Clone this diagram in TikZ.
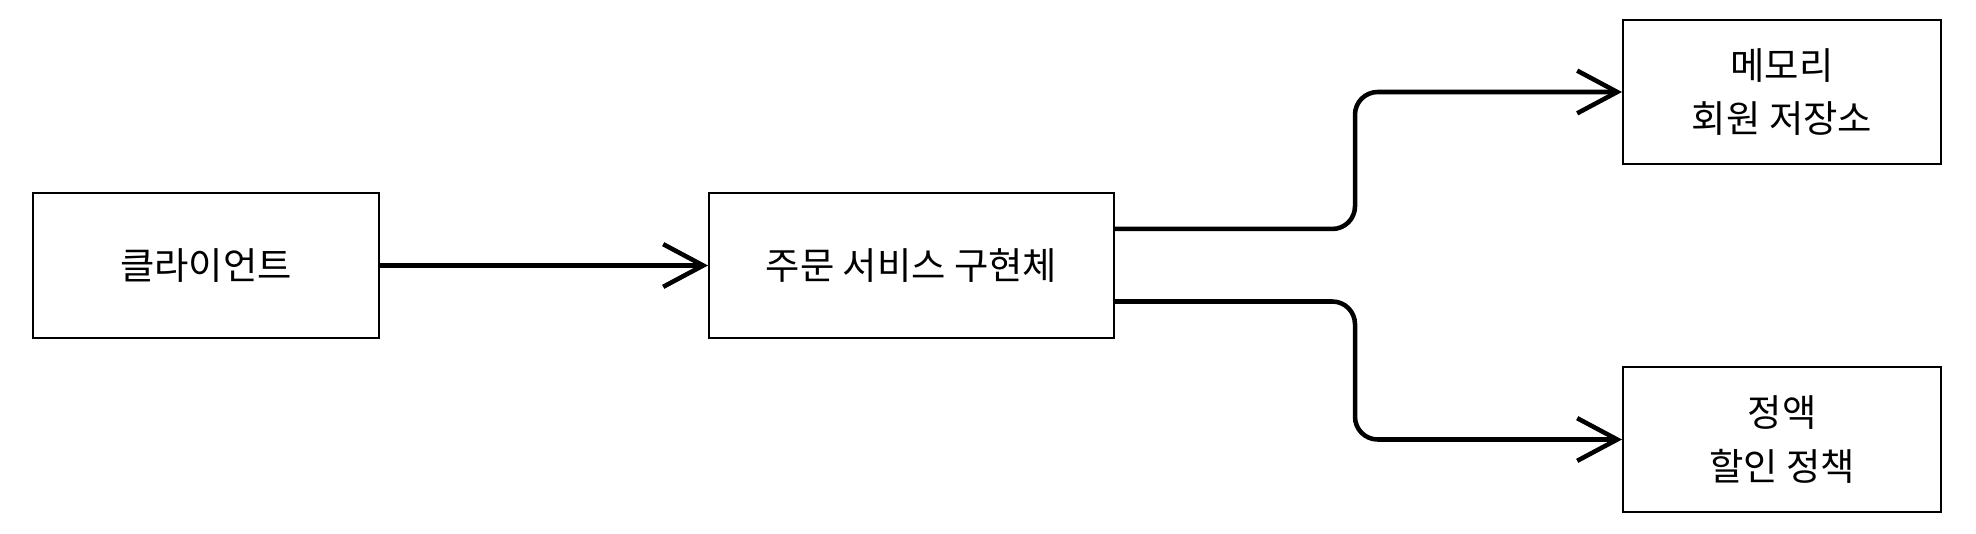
\documentclass[tikz,border=0pt]{standalone}
\usepackage{fontspec}
\setmainfont{Noto Sans CJK KR}
\usetikzlibrary{arrows.meta}

\tikzset{every picture/.style={line width=0.75pt}}
\tikzset{
  box/.style={draw, line width=1.5pt, align=center, inner sep=0pt,
    font=\fontsize{28}{40}\selectfont},
  flow/.style={line width=3.4pt, -{Straight Barb[length=30pt,width=32pt]}, rounded corners=17pt},
}

\begin{document}
\begin{tikzpicture}[x=0.75pt,y=0.75pt,yscale=-1,xscale=1]
	\useasboundingbox (0,0) rectangle (1976,534);
	
	% boxes
	\node [box, minimum width=259.5pt, minimum height=108.75pt] (client) at (206,265.5) {클라이언트};
	\node [box, minimum width=303.75pt, minimum height=108.75pt] (service) at (911.5,265.5) {주문 서비스 구현체};
	\node [box, minimum width=238.5pt, minimum height=108pt] (memory) at (1782,92) {메모리\\회원 저장소};
	\node [box, minimum width=238.5pt, minimum height=108.75pt] (discount) at (1782,439.5) {정액\\할인 정책};
	
	% bend column
	\coordinate (bend) at (1355,0);
	
	% arrows
	\draw [flow] (client) -- (service);
	\draw [flow] ([yshift=-27.4pt]service.east) -| (bend |- memory.west) -- (memory.west);
	\draw [flow] ([yshift=27pt]service.east) -| (bend |- discount.west) -- (discount.west);
	
\end{tikzpicture}
\end{document}
